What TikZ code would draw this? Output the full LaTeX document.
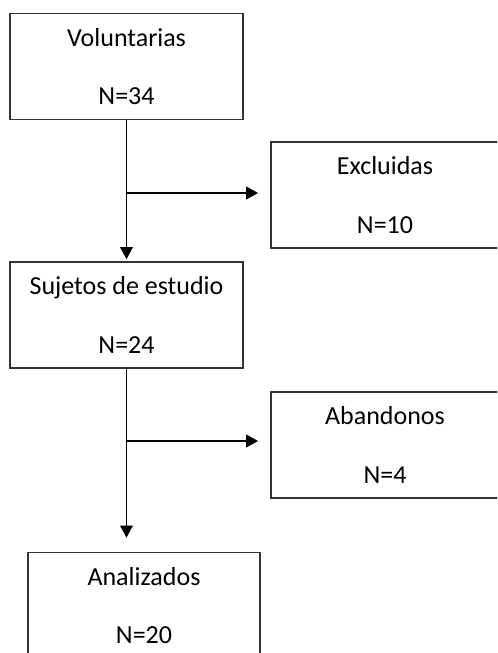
\documentclass[tikz,border=0pt]{standalone}
\usepackage{fontspec}
\setmainfont{Carlito}
\usepackage{tikz}
\usetikzlibrary{arrows.meta}

\begin{document}
\begin{tikzpicture}[x=0.75pt,y=-0.75pt,
    box/.style={draw=black!80,line width=1.3pt,inner sep=0pt,
      minimum height=79.5pt,align=center,
      font=\fontsize{19.5}{44}\selectfont},
    flow/.style={line width=1.1pt,-{Triangle[length=9pt,width=9.5pt]}}]
  \clip (0,0) rectangle (497,653);
  \node[box,minimum width=174.75pt] (V) at (126.5,66.5) {Voluntarias\\N=34};
  \node[box,minimum width=174.75pt] (S) at (126.5,315) {Sujetos de estudio\\N=24};
  \node[box,minimum width=171pt] (Ex) at (385,195) {Excluidas\\N=10};
  \node[box,minimum width=171pt] (Ab) at (385,445) {Abandonos\\N=4};
  \node[box,minimum width=174pt] (An) at (144,605.5) {Analizados\\N=20};
  \coordinate (v1) at (126.5,193);
  \coordinate (s1) at (126.5,441);
  \draw[flow,shorten >=1.5pt] (V.south) -- (S.north);
  \draw[flow,shorten >=9pt] (v1) -- (Ex.west |- v1);
  \draw[flow,shorten >=9pt] (s1) -- (Ab.west |- s1);
  \draw[flow,shorten >=10.5pt] (S.south) -- (S.south |- An.north);
\end{tikzpicture}
\end{document}
